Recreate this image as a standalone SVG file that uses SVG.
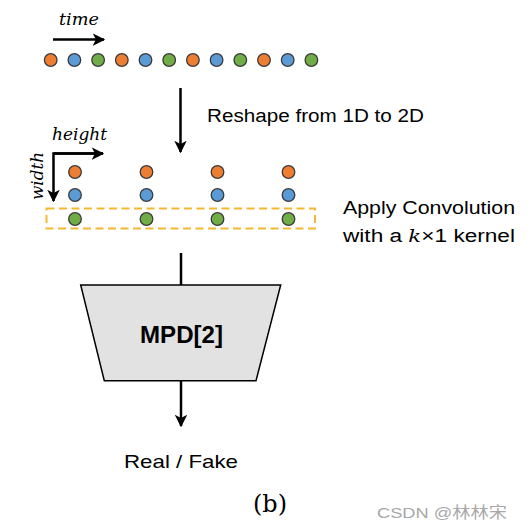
<svg xmlns="http://www.w3.org/2000/svg" width="531" height="531" viewBox="0 0 531 531">
<style>
.o{fill:#ED7D31}.b{fill:#5B9BD5}.g{fill:#70AD47}
circle{stroke:#3a3a3a;stroke-width:1.3}
.ln{stroke:#000;stroke-width:2.5;fill:none}
.t{font-family:"Liberation Sans",Arial,sans-serif;fill:#000}
.m{font-family:"DejaVu Serif","Liberation Serif",serif;font-style:italic;fill:#000}
</style>
<defs>
<marker id="ah" viewBox="0 0 10 10" refX="9" refY="5" markerWidth="5" markerHeight="5" orient="auto" markerUnits="strokeWidth">
<path d="M0,0 L10,5 L0,10 L2.5,5 Z" fill="#000"/>
</marker>
</defs>
<rect width="531" height="531" fill="#fff"/>
<g id="time-label">
<text class="m" x="59" y="25" font-size="16.5" textLength="40" lengthAdjust="spacingAndGlyphs">time</text>
</g>
<g id="row1D">
<circle class="o" cx="50.7" cy="60" r="6.3"/>
<circle class="b" cx="74.4" cy="60" r="6.3"/>
<circle class="g" cx="98.1" cy="60" r="6.3"/>
<circle class="o" cx="121.8" cy="60" r="6.3"/>
<circle class="b" cx="145.5" cy="60" r="6.3"/>
<circle class="g" cx="169.2" cy="60" r="6.3"/>
<circle class="o" cx="192.9" cy="60" r="6.3"/>
<circle class="b" cx="216.6" cy="60" r="6.3"/>
<circle class="g" cx="240.3" cy="60" r="6.3"/>
<circle class="o" cx="264" cy="60" r="6.3"/>
<circle class="b" cx="287.7" cy="60" r="6.3"/>
<circle class="g" cx="311.4" cy="60" r="6.3"/>
</g>
<g id="reshape-label">
<text class="t" x="207" y="122" font-size="18" textLength="217" lengthAdjust="spacingAndGlyphs">Reshape from 1D to 2D</text>
</g>
<g id="axes-label">
<text class="m" x="52" y="140" font-size="16.5" textLength="55" lengthAdjust="spacingAndGlyphs">height</text>
<text class="m" transform="translate(43,200) rotate(-90)" x="0" y="0" font-size="16.5" textLength="48" lengthAdjust="spacingAndGlyphs">width</text>
</g>
<g id="grid2D">
<circle class="o" cx="75" cy="172" r="6.3"/>
<circle class="b" cx="75" cy="195" r="6.3"/>
<circle class="g" cx="75" cy="219" r="6.3"/>
<circle class="o" cx="146.5" cy="172" r="6.3"/>
<circle class="b" cx="146.5" cy="195" r="6.3"/>
<circle class="g" cx="146.5" cy="219" r="6.3"/>
<circle class="o" cx="217.5" cy="172" r="6.3"/>
<circle class="b" cx="217.5" cy="195" r="6.3"/>
<circle class="g" cx="217.5" cy="219" r="6.3"/>
<circle class="o" cx="288.5" cy="172" r="6.3"/>
<circle class="b" cx="288.5" cy="195" r="6.3"/>
<circle class="g" cx="288.5" cy="219" r="6.3"/>
</g>
<g id="kernel-box">
<rect x="46.5" y="208.5" width="268.5" height="20" fill="none" stroke="#F5B731" stroke-width="2" stroke-dasharray="8,4.5"/>
</g>
<g id="conv-label">
<text class="t" x="343" y="214" font-size="18" textLength="172" lengthAdjust="spacingAndGlyphs">Apply Convolution</text>
<text class="t" x="343" y="242" font-size="18" textLength="172" lengthAdjust="spacingAndGlyphs">with a <tspan class="m" font-size="17">k</tspan>×1 kernel</text>
</g>
<g id="mpd">
<polygon points="80.7,285 280.7,285 256,380.7 104.3,380.7" fill="#E2E2E2" stroke="#000" stroke-width="1.5"/>
<text class="t" x="140" y="343" font-size="23" font-weight="bold" textLength="83" lengthAdjust="spacingAndGlyphs">MPD[2]</text>
</g>
<g id="output-label">
<text class="t" x="124" y="468" font-size="19" textLength="114" lengthAdjust="spacingAndGlyphs">Real / Fake</text>
</g>
<g id="caption">
<text x="253" y="512" font-family="'DejaVu Serif','Liberation Serif',serif" font-size="25" textLength="34" lengthAdjust="spacingAndGlyphs">(b)</text>
<text x="377" y="518" font-family="'Liberation Sans','Noto Sans CJK SC',sans-serif" font-size="15.5" fill="#A8A8A8" textLength="130" lengthAdjust="spacingAndGlyphs">CSDN @林林宋</text>
</g>
<g id="connectors">
<line class="ln" x1="53" y1="39.5" x2="104" y2="39.5" marker-end="url(#ah)"/>
<line class="ln" x1="180.5" y1="88" x2="180.5" y2="152" marker-end="url(#ah)"/>
<polyline class="ln" points="103,153.5 53.5,153.5 53.5,201" marker-end="url(#ah)"/>
<line class="ln" x1="53.5" y1="153.5" x2="103" y2="153.5" marker-end="url(#ah)"/>
<line class="ln" x1="181" y1="253" x2="181" y2="285"/>
<line class="ln" x1="181" y1="381" x2="181" y2="426" marker-end="url(#ah)"/>
</g>
</svg>
